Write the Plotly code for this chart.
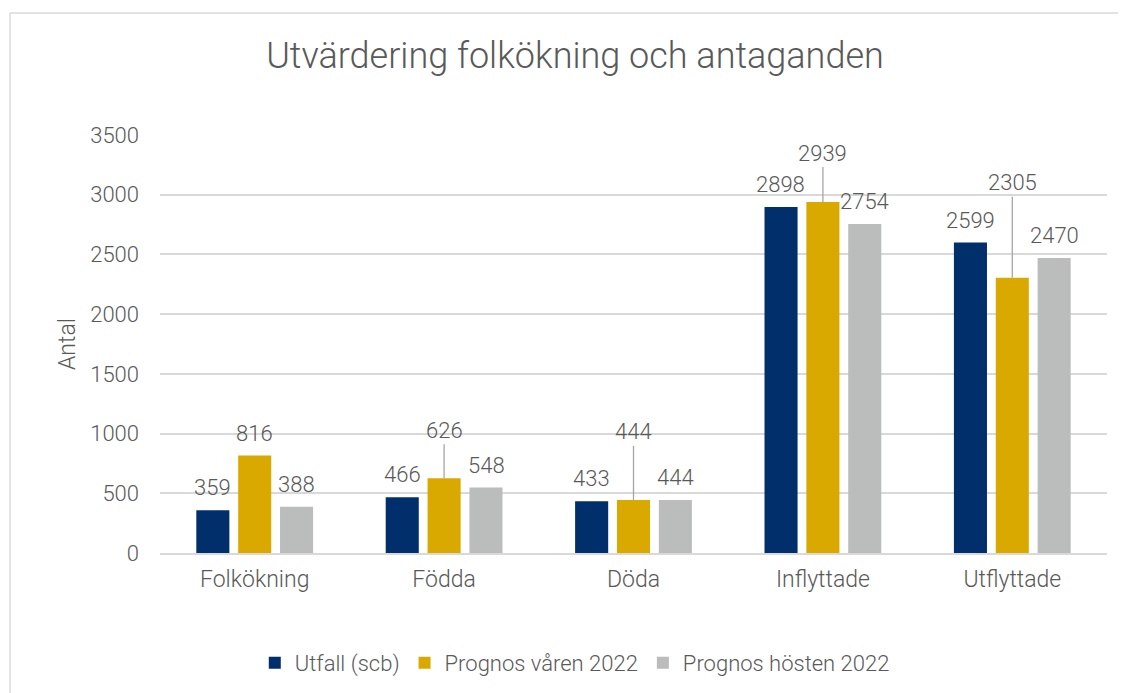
import plotly.graph_objects as go

categories = ["Folkökning", "Födda", "Döda", "Inflyttade", "Utflyttade"]
series_names = ["Utfall (scb)", "Prognos våren 2022", "Prognos hösten 2022"]
utfall = [359, 466, 433, 2898, 2599]
varen = [816, 626, 444, 2939, 2305]
hosten = [388, 548, 444, 2754, 2470]
colors = ["#002F6C", "#DAA900", "#BBBCBC"]

# pixel lift of yellow labels that carry a leader line (None = normal label)
varen_lift = [None, -48, -68, -49, -95]

FONT = "Roboto"
W = 300
TXT = "#595959"

fig = go.Figure()
for name, vals, col in zip(series_names, [utfall, varen, hosten], colors):
    fig.add_trace(go.Bar(x=categories, y=vals, name=name, marker_color=col,
                         marker_line_width=0))

annotations = []
offsets = [-0.2217, 0.0, 0.2217]
for si, vals in enumerate([utfall, varen, hosten]):
    for ci, v in enumerate(vals):
        lift = varen_lift[ci] if si == 1 else None
        if lift is None:
            annotations.append(dict(x=ci + offsets[si], y=v, xref="x", yref="y",
                                    text=str(v), showarrow=False, yanchor="bottom",
                                    yshift=8, font=dict(size=22, color=TXT, family=FONT, weight=W)))
        else:
            annotations.append(dict(x=ci + offsets[si], y=v, xref="x", yref="y",
                                    text=str(v), showarrow=True, arrowhead=0,
                                    arrowwidth=1.3, arrowcolor="#A6A6A6",
                                    ax=0, ay=lift, standoff=0,
                                    font=dict(size=22, color=TXT, family=FONT, weight=W)))

annotations.append(dict(x=-0.0982, y=0.5, xref="paper", yref="paper", text="Antal",
                        textangle=-90, showarrow=False, xanchor="center", yanchor="middle",
                        font=dict(size=23, color=TXT, family=FONT, weight=W)))

border = dict(color="#D9D9D9", width=1.5)
fig.update_layout(
    width=1126, height=693,
    margin=dict(l=152, r=27, t=127, b=148),
    paper_bgcolor="white", plot_bgcolor="white",
    font=dict(family=FONT, color=TXT, size=20, weight=W),
    title=dict(text="Utvärdering folkökning och antaganden", x=567 / 1126, xanchor="center",
               y=1 - 47 / 693, yanchor="middle", font=dict(size=36, color=TXT, family=FONT, weight=W)),
    barmode="group", bargap=0.337, bargroupgap=0.21,
    showlegend=True,
    legend=dict(orientation="h", x=0.438, xanchor="center", y=-0.263, yanchor="middle",
                font=dict(size=22, color=TXT, family=FONT, weight=W), itemwidth=30,
                traceorder="normal"),
    annotations=annotations,
    shapes=[
        dict(type="line", xref="paper", yref="paper", x0=-0.1584, x1=1.2,
             y0=1.2919, y1=1.2919, line=border, layer="below"),
        dict(type="line", xref="paper", yref="paper", x0=-0.1584, x1=-0.1584,
             y0=-0.6, y1=1.2919, line=border, layer="below"),
    ],
)
fig.update_yaxes(range=[0, 3500], dtick=500, showgrid=True, gridcolor="#D9D9D9",
                 gridwidth=1.5, zeroline=False, showline=False,
                 tickfont=dict(size=22, color=TXT, family=FONT, weight=W), ticklabelstandoff=20)
fig.update_xaxes(showline=True, linecolor="#D9D9D9", linewidth=1.5, ticks="",
                 ticklabelstandoff=5,
                 tickfont=dict(size=23, color=TXT, family=FONT, weight=W))

fig.write_html("out.html",
               post_script="document.documentElement.style.overflow='hidden';"
                           "document.body.style.overflow='hidden';")
